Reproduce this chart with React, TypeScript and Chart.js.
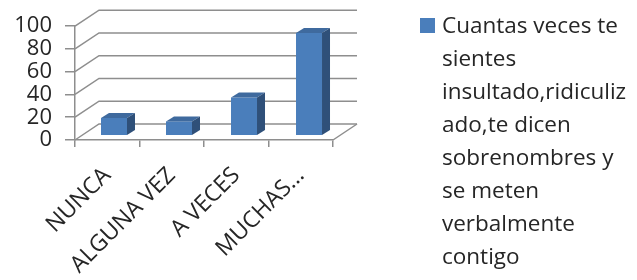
import React, { useEffect, useRef } from "react";
import { Chart, registerables } from "chart.js";

Chart.register(...registerables);

const categories = ["NUNCA", "ALGUNA VEZ", "A VECES", "MUCHAS..."];
const values = [15, 12, 33, 90];
const yTickValues = [0, 20, 40, 60, 80, 100];
const seriesName =
  "Cuantas veces te sientes insultado,ridiculizado,te dicen sobrenombres y se meten verbalmente contigo";
const legendLines = [
  "Cuantas veces te",
  "sientes",
  "insultado,ridiculiz",
  "ado,te dicen",
  "sobrenombres y",
  "se meten",
  "verbalmente",
  "contigo",
];

const FRONT = "#4A7EBB";
const TOP = "#3F6A9E";
const SIDE = "#2F5079";
const GRID = "#8e8e8e";
const TEXT = "#262626";
const FONT = "'Open Sans'";

// wall depth offset and bar depth offset
const WALL_DX = 24;
const WALL_DY = -16;
const BAR_DX = 8;
const BAR_DY = -5;

const wallsPlugin = {
  id: "walls3d",
  beforeDatasetsDraw(chart: any) {
    const { ctx, chartArea } = chart;
    const y = chart.scales.y;
    const L = chartArea.left;
    const R = chartArea.right;
    const B = chartArea.bottom;
    ctx.save();
    ctx.strokeStyle = GRID;
    ctx.lineWidth = 1.5;
    yTickValues.forEach((v) => {
      const py = y.getPixelForValue(v);
      ctx.beginPath();
      ctx.moveTo(L, py);
      ctx.lineTo(L + WALL_DX, py + WALL_DY);
      ctx.lineTo(R + WALL_DX, py + WALL_DY);
      ctx.stroke();
    });
    ctx.beginPath();
    ctx.moveTo(R, B);
    ctx.lineTo(R + WALL_DX, B + WALL_DY);
    ctx.stroke();
    ctx.restore();
  },
  afterDatasetsDraw(chart: any) {
    const { ctx } = chart;
    const meta = chart.getDatasetMeta(0);
    ctx.save();
    meta.data.forEach((el: any) => {
      const { x, y, base, width } = el.getProps(["x", "y", "base", "width"], true);
      const l = x - width / 2;
      const r = x + width / 2;
      ctx.fillStyle = TOP;
      ctx.beginPath();
      ctx.moveTo(l, y);
      ctx.lineTo(l + BAR_DX, y + BAR_DY);
      ctx.lineTo(r + BAR_DX, y + BAR_DY);
      ctx.lineTo(r, y);
      ctx.closePath();
      ctx.fill();
      ctx.fillStyle = SIDE;
      ctx.beginPath();
      ctx.moveTo(r, y);
      ctx.lineTo(r + BAR_DX, y + BAR_DY);
      ctx.lineTo(r + BAR_DX, base + BAR_DY);
      ctx.lineTo(r, base);
      ctx.closePath();
      ctx.fill();
    });
    ctx.restore();
  },
};

export default function App() {
  const ref = useRef<HTMLCanvasElement | null>(null);

  useEffect(() => {
    if (!ref.current) return;
    const chart = new Chart(ref.current, {
      type: "bar",
      data: {
        labels: categories,
        datasets: [
          {
            label: seriesName,
            data: values.map((v, i) => ({ x: i, y: v })),
            backgroundColor: FRONT,
            borderWidth: 0,
            xAxisID: "xb",
            yAxisID: "yb",
            categoryPercentage: 1,
            barPercentage: 0.4,
            clip: false,
          } as any,
        ],
      },
      options: {
        animation: false,
        responsive: false,
        maintainAspectRatio: false,
        layout: { padding: { top: 26, right: 304, left: 0, bottom: 0 } },
        plugins: { legend: { display: false }, tooltip: { enabled: false } },
        scales: {
          x: {
            type: "category",
            labels: categories,
            offset: true,
            position: "bottom",
            grid: {
              offset: true,
              drawOnChartArea: false,
              tickLength: 7,
              color: GRID,
              lineWidth: 1.5,
            },
            border: { color: GRID, width: 1.5 },
            ticks: {
              minRotation: 45,
              maxRotation: 45,
              autoSkip: false,
              padding: 15,
              color: TEXT,
              font: { family: FONT, size: 23 },
            },
            afterFit: (s: any) => {
              s.height = 140;
            },
          },
          y: {
            type: "linear",
            position: "left",
            min: 0,
            max: 100,
            ticks: {
              stepSize: 20,
              autoSkip: false,
              padding: 13,
              color: TEXT,
              font: { family: FONT, size: 22 },
            },
            grid: {
              drawOnChartArea: false,
              tickLength: 10,
              color: GRID,
              lineWidth: 1.5,
            },
            border: { color: GRID, width: 1.5 },
            afterFit: (s: any) => {
              s.width = 75;
            },
          },
          xb: { type: "linear", display: false, offset: false, min: -0.6, max: 3.369 },
          yb: { type: "linear", display: false, min: -4.405, max: 96.04 },
        },
      } as any,
      plugins: [wallsPlugin],
    });
    return () => chart.destroy();
  }, []);

  return (
    <div
      style={{
        position: "fixed",
        left: 0,
        top: 0,
        width: 637,
        height: 280,
        background: "#fff",
        overflow: "hidden",
      }}
    >
      <canvas ref={ref} width={637} height={280} style={{ display: "block" }} />
      <div
        style={{
          position: "absolute",
          left: 420,
          top: 18,
          width: 15,
          height: 15,
          background: FRONT,
        }}
      />
      <div
        style={{
          position: "absolute",
          left: 442,
          top: 8,
          fontFamily: FONT,
          fontSize: 22.5,
          lineHeight: "33px",
          color: TEXT,
          whiteSpace: "nowrap",
        }}
      >
        {legendLines.map((line, i) => (
          <div key={i}>{line}</div>
        ))}
      </div>
    </div>
  );
}
